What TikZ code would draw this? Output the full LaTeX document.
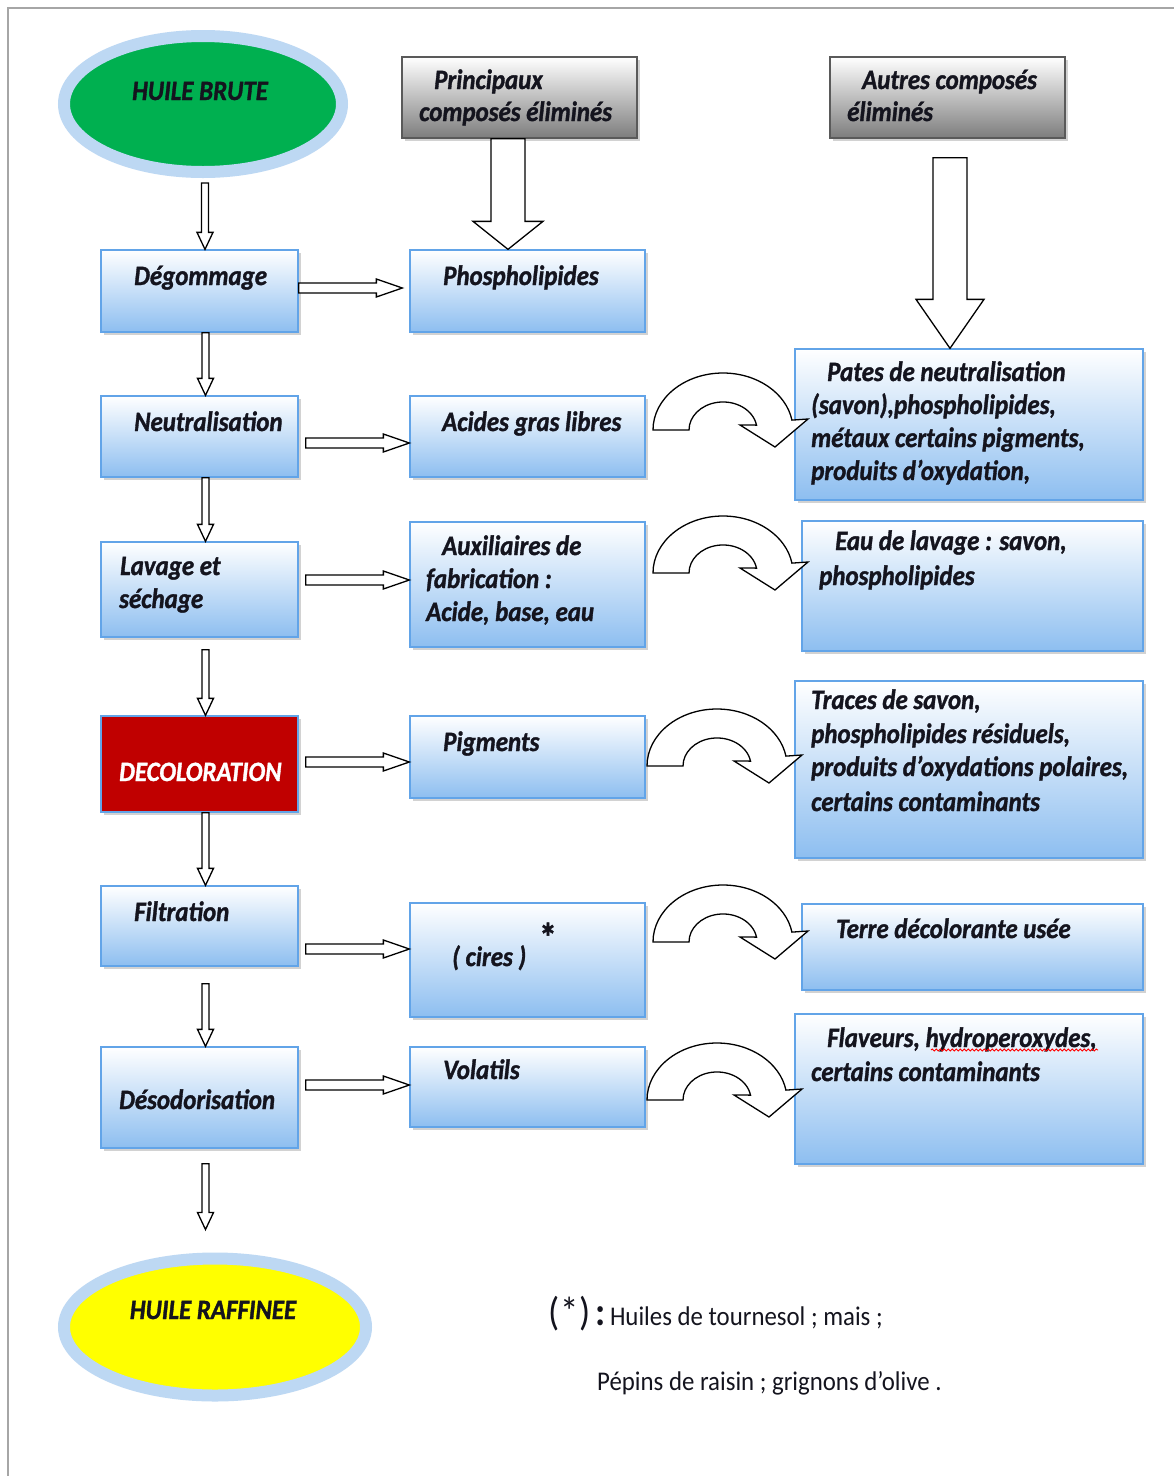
\documentclass[tikz,border=0pt]{standalone}
\usepackage{fontspec}
\usetikzlibrary{calc,fit,shadows,shapes.geometric,decorations.pathmorphing}
\newfontfamily\boxfont{Carlito}[FakeStretch=0.89, FakeBold=1.2]
\newfontfamily\notefont{Carlito}[FakeStretch=0.92]

\definecolor{boxblue}{RGB}{141,190,240}
\definecolor{boxedge}{RGB}{98,164,232}
\definecolor{ringblue}{RGB}{189,216,243}
\definecolor{oilgreen}{RGB}{0,176,80}
\definecolor{oilyellow}{RGB}{255,255,0}
\definecolor{decred}{RGB}{192,0,0}
\definecolor{headgray}{RGB}{125,125,125}
\definecolor{headedge}{RGB}{90,90,90}
\definecolor{pagegray}{RGB}{166,166,166}
\definecolor{ink}{RGB}{20,20,30}

% hollow block arrow pointing down: #1 start, #2 tip, #3 shaft half width, #4 head half width, #5 head length
\newcommand\hollowdown[5]{%
  \draw[hollow] let \p1=#1, \p2=#2 in
    (\x1-#3pt,\y1) -- (\x1-#3pt,\y2+#5pt) -- (\x1-#4pt,\y2+#5pt) -- (\x1,\y2)
    -- (\x1+#4pt,\y2+#5pt) -- (\x1+#3pt,\y2+#5pt) -- (\x1+#3pt,\y1) -- cycle;}
% hollow block arrow pointing right
\newcommand\hollowright[5]{%
  \draw[hollow] let \p1=#1, \p2=#2 in
    (\x1,\y1+#3pt) -- (\x2-#5pt,\y1+#3pt) -- (\x2-#5pt,\y1+#4pt) -- (\x2,\y1)
    -- (\x2-#5pt,\y1-#4pt) -- (\x2-#5pt,\y1-#3pt) -- (\x1,\y1-#3pt) -- cycle;}
\newcommand\vthin[2]{\hollowdown{#1}{#2}{3.5}{8}{17}}
\newcommand\hthin[2]{\hollowright{#1}{#2}{5}{9}{26}}

\tikzset{
  hollow/.style={draw=black, fill=white, line width=1.3pt, line join=miter},
  stepbox/.style={draw=boxedge, line width=1.3pt, top color=white, bottom color=boxblue,
    inner sep=0pt, drop shadow={opacity=0.35, shadow xshift=3pt, shadow yshift=-3pt}},
  redbox/.style={draw=boxedge, line width=1.3pt, fill=decred,
    inner sep=0pt, drop shadow={opacity=0.35, shadow xshift=3pt, shadow yshift=-3pt}},
  headbox/.style={draw=headedge, line width=1.3pt, top color=white, bottom color=headgray,
    inner sep=0pt, drop shadow={opacity=0.35, shadow xshift=3pt, shadow yshift=-3pt}},
  oil/.style={ellipse, draw=ringblue, line width=12pt, inner sep=0pt},
  lbl/.style={font=\boxfont\bfseries\itshape\fontsize{28}{33}\selectfont, text=ink,
    inner sep=0pt, anchor=base west},
  note/.style={font=\notefont\fontsize{27}{32}\selectfont, text=ink, inner sep=0pt, anchor=base west},
  uturn/.pic={
    \draw[hollow] (-70,0) arc[start angle=180, end angle=350, x radius=70, y radius=57]
      -- (85,-11) -- (52,17) -- (17,-5) -- (33.5,-4.9)
      arc[start angle=350, end angle=180, x radius=34, y radius=28] -- cycle;}
}

\begin{document}
\begin{tikzpicture}[x=1pt, y=-1pt]
\useasboundingbox (0,0) rectangle (1174,1476);
\fill[white] (0,0) rectangle (1174,1476);
\draw[pagegray, line width=2pt] (8,1476) -- (8,8) -- (1174,8);

% start and end products
\node[oil, fill=oilgreen, minimum width=278pt, minimum height=136pt] (brute) at (203,104) {};
\node[lbl, anchor=base] (brute-t) at (200,100) {HUILE BRUTE};
\node[oil, fill=oilyellow, minimum width=302pt, minimum height=137pt] (raff) at (215,1327) {};
\node[lbl, anchor=base] (raff-t) at (213,1319) {HUILE RAFFINEE};

% column headers
\node[headbox, fit={(402,57) (637,138)}] (prin) {};
\node[lbl] (prin-t1) at (434,89) {Principaux};
\node[lbl] (prin-t2) at (419,121) {composés éliminés};
\node[headbox, fit={(830,57) (1065,138)}] (autr) {};
\node[lbl] (autr-t1) at (862,89) {Autres composés};
\node[lbl] (autr-t2) at (847,121) {éliminés};

% refining steps
\node[stepbox, fit={(101,250) (298,332)}] (deg) {};
\node[lbl] (deg-t) at (134,285) {Dégommage};
\node[stepbox, fit={(101,396) (298,477)}] (neu) {};
\node[lbl] (neu-t) at (134,431) {Neutralisation};
\node[stepbox, fit={(101,542) (298,637)}] (lav) {};
\node[lbl] (lav-t1) at (120,575) {Lavage et};
\node[lbl] (lav-t2) at (119,608) {séchage};
\node[redbox, fit={(101,716) (298,812)}] (dec) {};
\node[lbl, text=white] (dec-t) at (119,781) {DECOLORATION};
\node[stepbox, fit={(101,886) (298,966)}] (fil) {};
\node[lbl] (fil-t) at (134,921) {Filtration};
\node[stepbox, fit={(101,1047) (298,1148)}] (des) {};
\node[lbl] (des-t) at (119,1109) {Désodorisation};

% main compounds removed
\node[stepbox, fit={(410,250) (645,332)}] (phos) {};
\node[lbl] (phos-t) at (443,285) {Phospholipides};
\node[stepbox, fit={(410,396) (645,477)}] (agl) {};
\node[lbl] (agl-t) at (442,431) {Acides gras libres};
\node[stepbox, fit={(410,522) (645,647)}] (aux) {};
\node[lbl] (aux-t1) at (442,555) {Auxiliaires de};
\node[lbl] (aux-t2) at (426,588) {fabrication :};
\node[lbl] (aux-t3) at (426,621) {Acide, base, eau};
\node[stepbox, fit={(410,903) (645,1017)}] (cir) {};
\node[lbl] (cir-t) at (452,966) {( cires )};
\node[lbl, font=\boxfont\bfseries\fontsize{40}{40}\selectfont, anchor=center] (cir-s) at (548,937) {*};
\node[stepbox, fit={(410,716) (645,798)}] (pig) {};
\node[lbl] (pig-t) at (443,751) {Pigments};
\node[stepbox, fit={(410,1047) (645,1127)}] (vol) {};
\node[lbl] (vol-t) at (443,1079) {Volatils};

% other compounds removed
\node[stepbox, fit={(795,349) (1143,500)}] (pat) {};
\node[lbl] (pat-t1) at (827,381) {Pates de neutralisation};
\node[lbl] (pat-t2) at (811,414) {(savon),phospholipides,};
\node[lbl] (pat-t3) at (811,447) {métaux certains pigments,};
\node[lbl] (pat-t4) at (811,480) {produits d’oxydation,};
\node[stepbox, fit={(802,521) (1143,651)}] (eau) {};
\node[lbl] (eau-t1) at (835,550) {Eau de lavage : savon,};
\node[lbl] (eau-t2) at (819,585) {phospholipides};
\node[stepbox, fit={(795,681) (1143,858)}] (tra) {};
\node[lbl] (tra-t1) at (811,709) {Traces de savon,};
\node[lbl] (tra-t2) at (811,743) {phospholipides résiduels,};
\node[lbl] (tra-t3) at (811,776) {produits d’oxydations polaires,};
\node[lbl] (tra-t4) at (811,811) {certains contaminants};
\node[stepbox, fit={(802,904) (1143,990)}] (ter) {};
\node[lbl] (ter-t) at (836,938) {Terre décolorante usée};
\node[stepbox, fit={(795,1014) (1143,1164)}] (fla) {};
\node[lbl] (fla-t1) at (827,1047) {Flaveurs, hydroperoxydes,};
\node[lbl] (fla-t2) at (811,1081) {certains contaminants};
\draw[red, line width=0.9pt, decorate, decoration={snake, segment length=4pt, amplitude=1pt}]
  (931,1050) -- (1098,1050);

% process flow
\vthin{($(brute.south)+(2,5)$)}{($(deg.north)+(6,0)$)}
\vthin{($(deg.south)+(6,0)$)}{($(neu.north)+(6,0)$)}
\vthin{($(neu.south)+(6,0)$)}{($(lav.north)+(6,0)$)}
\vthin{($(lav.south)+(6,12)$)}{($(dec.north)+(6,0)$)}
\vthin{($(dec.south)+(6,0)$)}{($(fil.north)+(6,0)$)}
\vthin{($(fil.south)+(6,17)$)}{($(des.north)+(6,0)$)}
\vthin{($(des.south)+(6,15)$)}{($(raff.north)+(-4,-23)$)}

% step to compound
\hthin{($(deg.east)+(0,-3)$)}{($(phos.west)+(-7,0)$)}
\hthin{($(neu.east)+(7,6.5)$)}{(agl.west)}
\hthin{($(lav.east)+(7,-9.5)$)}{(aux.west)}
\hthin{($(dec.east)+(7,-2)$)}{(pig.west)}
\hthin{($(fil.east)+(7,23)$)}{(cir.west)}
\hthin{($(des.east)+(7,-12.5)$)}{(vol.west)}

% headers to their columns
\hollowdown{($(prin.south)+(-11.5,0)$)}{($(phos.north)+(-19.5,0)$)}{17}{35}{28}
\hollowdown{($(autr.south)+(2.5,19)$)}{(pat.north)}{17}{34}{49}

% turning arrows towards the other compounds
\pic (u1) at (723,430) {uturn};
\pic (u2) at (723,573) {uturn};
\pic (u3) at (717,766) {uturn};
\pic (u4) at (723,942) {uturn};
\pic (u5) at (717,1100) {uturn};

% footnote
\node[note] (fn1) at (548,1325)
  {{\fontsize{40}{40}\selectfont(\kern1pt*\kern1pt)\hspace{5pt}\textbf{:}}\hspace{4pt}Huiles de tournesol ; mais ;};
\node[note] (fn2) at (597,1390) {Pépins de raisin ; grignons d’olive .};
\end{tikzpicture}
\end{document}
